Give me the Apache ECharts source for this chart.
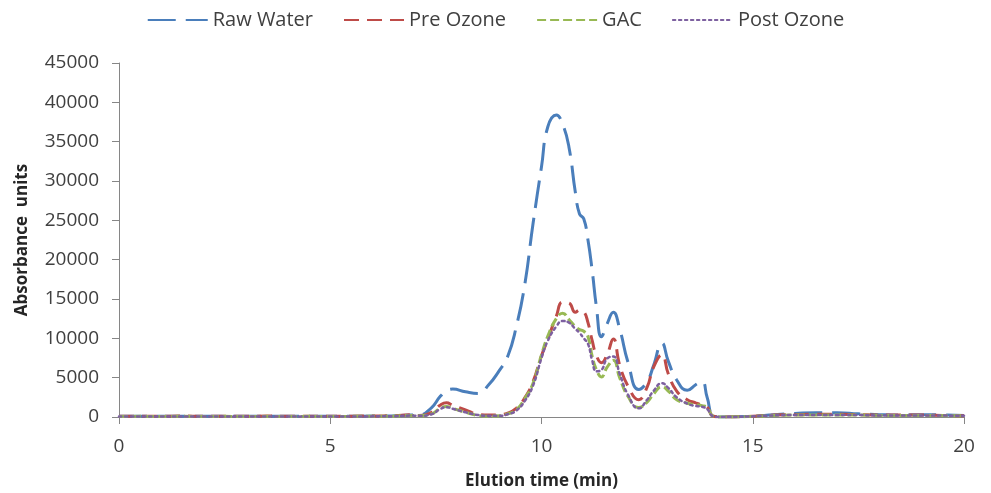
<!DOCTYPE html>
<html>
<head>
<meta charset="utf-8">
<script src="https://cdn.jsdelivr.net/npm/echarts@6/dist/echarts.min.js"></script>
<style>
html,body{margin:0;padding:0;background:#fff;}
#chart{width:991px;height:493px;}
</style>
</head>
<body>
<div id="chart"></div>
<script>
// Elution time (min)
const times = [0, 0.5, 1, 1.5, 2, 2.5, 3, 3.5, 4, 4.5, 5, 5.5, 6, 6.5, 6.9, 7.1, 7.4, 7.6, 7.75, 7.9, 8.2, 8.5, 8.75, 9.0, 9.2, 9.4, 9.6, 9.8, 10.0, 10.15, 10.35, 10.5, 10.65, 10.8, 10.9, 11.0, 11.1, 11.2, 11.3, 11.42, 11.55, 11.7, 11.85, 12.05, 12.3, 12.5, 12.65, 12.85, 13.0, 13.2, 13.45, 13.65, 13.8, 13.92, 14.07, 14.3, 15, 15.5, 16, 16.5, 17, 17.5, 18, 18.5, 19, 19.5, 20];

const rawWater = [80, 90, 100, 80, 90, 100, 80, 90, 100, 90, 80, 100, 120, 150, 250, 250, 1200, 2600, 3300, 3550, 3200, 3000, 4100, 5900, 7700, 11400, 16700, 24600, 31800, 36900, 38400, 37200, 34300, 28600, 25800, 25200, 22500, 18600, 14000, 10200, 11800, 13300, 11200, 6900, 3500, 4500, 6500, 9400, 7100, 4700, 3400, 4100, 4500, 2500, 200, 0, 100, 300, 450, 550, 550, 400, 300, 250, 300, 250, 200];

const preOzone = [100, 110, 100, 120, 100, 110, 100, 120, 100, 110, 100, 110, 130, 160, 300, 200, 600, 1500, 1800, 1500, 900, 350, 250, 300, 500, 1100, 2400, 4500, 7800, 9900, 12800, 14600, 14500, 13300, 13600, 13400, 12000, 9700, 7800, 6900, 7900, 9900, 6600, 3900, 2200, 3800, 6300, 7900, 5500, 3300, 2200, 1800, 1500, 1250, 100, 0, 100, 250, 300, 350, 350, 300, 250, 250, 250, 200, 150];

const gac = [70, 80, 70, 80, 70, 80, 70, 80, 70, 80, 70, 80, 90, 110, 200, 150, 400, 1100, 1350, 1100, 600, 200, 100, 150, 400, 900, 2300, 4300, 7900, 10300, 12500, 13200, 12400, 11500, 11100, 10900, 10200, 7700, 6000, 5100, 6300, 7200, 5000, 2600, 1200, 1900, 2900, 3850, 3300, 2200, 1750, 1550, 1450, 1200, 100, 0, 80, 200, 250, 250, 250, 250, 200, 200, 200, 180, 150];

const postOzone = [60, 70, 60, 70, 60, 70, 60, 70, 60, 70, 60, 70, 80, 100, 180, 150, 350, 1000, 1250, 1050, 600, 250, 150, 150, 350, 800, 2000, 4000, 7500, 9700, 11500, 12200, 12000, 11200, 10700, 10000, 9300, 7200, 5800, 6000, 7400, 7700, 5500, 2800, 1100, 2200, 3300, 4300, 3700, 2500, 1700, 1400, 1300, 1000, 100, 0, 80, 200, 250, 250, 250, 250, 200, 200, 200, 180, 150];

const seriesNames = ['Raw Water', 'Pre Ozone', 'GAC', 'Post Ozone'];
const xTicks = [0, 5, 10, 15, 20];

const zip = vals => times.map((t, i) => [t, vals[i]]);

const FONT = 'Open Sans';
const chart = echarts.init(document.getElementById('chart'));

const styles = [
  {color: '#4A7EBB', width: 3, type: [28, 10]},
  {color: '#BE4B48', width: 3, type: [15, 8]},
  {color: '#98B954', width: 3, type: [9, 4]},
  {color: '#7D60A0', width: 2.5, type: [2.5, 3.5]}
];
const allVals = [rawWater, preOzone, gac, postOzone];

chart.setOption({
  animation: false,
  backgroundColor: '#fff',
  legend: {
    top: 5,
    left: 'center',
    itemWidth: 60,
    itemHeight: 14,
    itemGap: 30,
    itemStyle: {opacity: 0},
    textStyle: {fontFamily: FONT, fontSize: 20, color: '#404040'},
    data: seriesNames
  },
  grid: {left: 119, right: 27, top: 63, bottom: 76, containLabel: false, outerBoundsMode: 'none'},
  xAxis: {
    type: 'value',
    min: 0, max: 20, interval: 5,
    name: 'Elution time (min)',
    nameLocation: 'middle',
    nameGap: 56,
    nameTextStyle: {fontFamily: FONT, fontSize: 17, fontWeight: 'bold', color: '#262626'},
    axisLine: {show: true, lineStyle: {color: '#868686', width: 1}},
    axisTick: {show: true, length: 7, lineStyle: {color: '#868686'}},
    axisLabel: {fontFamily: FONT, fontSize: 19, color: '#404040', margin: 20,
      formatter: v => xTicks.includes(v) ? String(v) : ''},
    splitLine: {show: false}
  },
  yAxis: {
    type: 'value',
    min: 0, max: 45000, interval: 5000,
    name: 'Absorbance  units',
    nameLocation: 'middle',
    nameRotate: 90,
    nameGap: 88,
    nameTextStyle: {fontFamily: FONT, fontSize: 17, fontWeight: 'bold', color: '#262626'},
    axisLine: {show: true, lineStyle: {color: '#868686', width: 1}},
    axisTick: {show: true, length: 7, lineStyle: {color: '#868686'}},
    axisLabel: {fontFamily: FONT, fontSize: 19, color: '#404040', margin: 20,
      formatter: v => String(v)},
    splitLine: {show: false}
  },
  series: seriesNames.map((n, i) => ({
    name: n,
    type: 'line',
    data: zip(allVals[i]),
    smooth: 0.5,
    symbol: 'none',
    showSymbol: false,
    lineStyle: {color: styles[i].color, width: styles[i].width, type: styles[i].type, cap: i === 3 ? 'round' : 'butt'},
    itemStyle: {color: styles[i].color}
  }))
});
</script>
</body>
</html>
